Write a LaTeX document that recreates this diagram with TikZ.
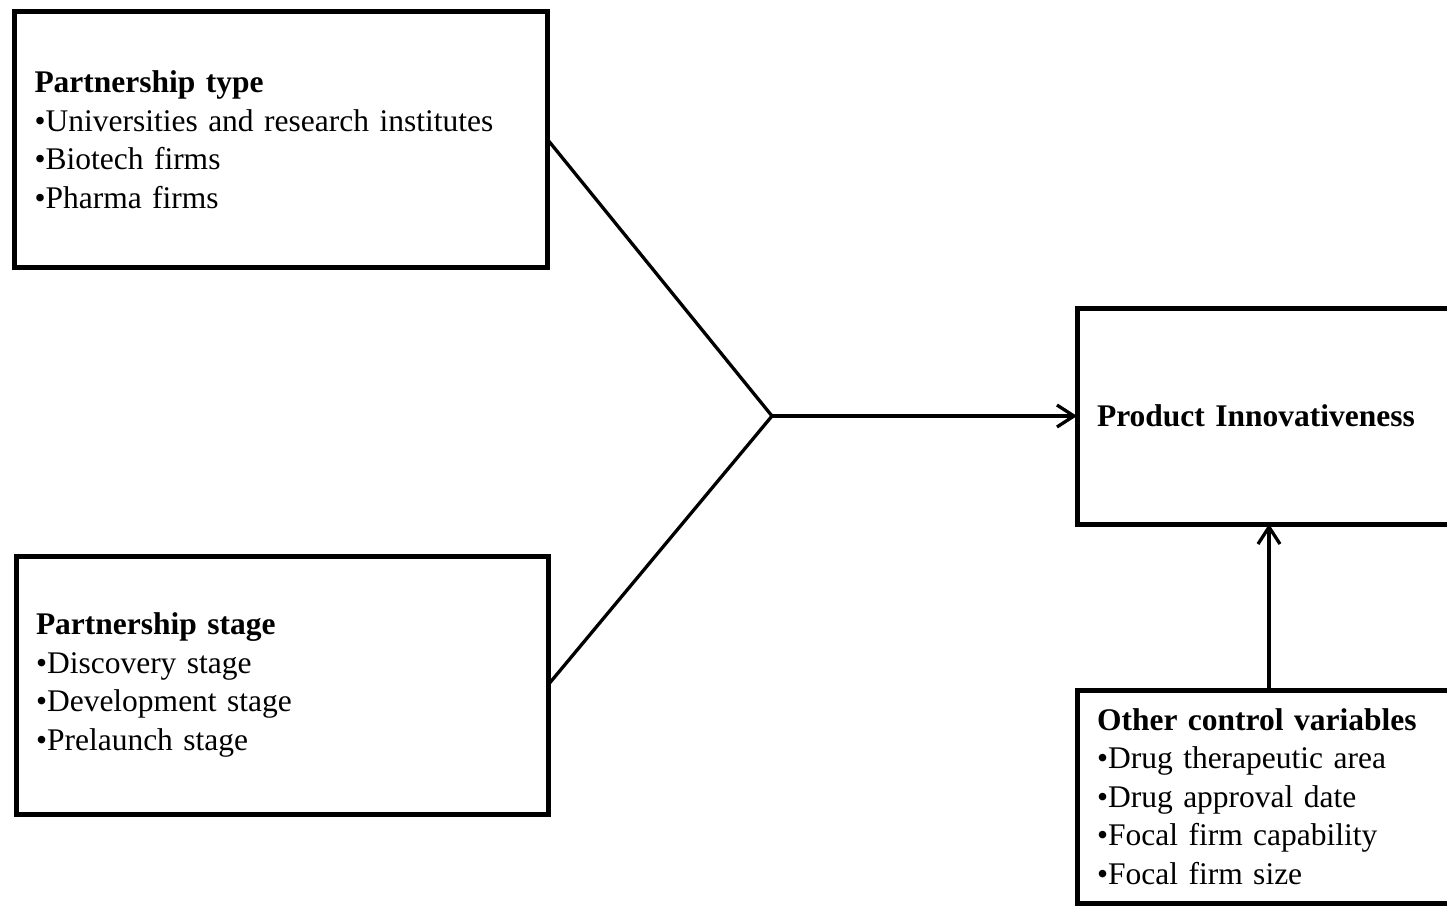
\documentclass[tikz,border=0pt]{standalone}
\usepackage{fontspec}
\setmainfont{Liberation Serif}
\usetikzlibrary{arrows.meta}

\begin{document}
\begin{tikzpicture}[x=0.5pt, y=-0.5pt]

            \tikzset{varbox/.style={draw, line width=2.5pt, outer sep=0pt, inner xsep=10pt,
                                    align=left, anchor=north west,
                                    font=\fontsize{15.75}{19.25}\selectfont},
                     link/.style={line width=1.65pt},
                     arr/.style={link, -{Straight Barb[length=8.5pt, width=11pt, line width=1.65pt]}}}

            \useasboundingbox (0,0) rectangle (1447,906);

            \node [varbox, text width=246.5pt, minimum height=128pt] (ptype) at (14.5, 11.5)
                  {\textbf{Partnership type}\\ •Universities and research institutes\\ •Biotech firms\\ •Pharma firms};
            \node [varbox, text width=246pt, minimum height=129pt] (pstage) at (16, 556)
                  {\textbf{Partnership stage}\\ •Discovery stage\\ •Development stage\\ •Prelaunch stage};
            \node [varbox, text width=172pt, minimum height=108pt] (innov) at (1077, 308)
                  {\textbf{Product Innovativeness}};
            \node [varbox, text width=172pt, minimum height=106.5pt] (ctrl) at (1077, 690)
                  {\textbf{Other control variables}\\ •Drug therapeutic area\\ •Drug approval date\\ •Focal firm capability\\ •Focal firm size};

            \coordinate (hub) at (772, 416);

            \draw [link] (ptype.east) -- (hub);
            \draw [link] (pstage.east) -- (hub);
            \draw [arr] (hub) -- (innov.west);
            \draw [arr] (ctrl.north) -- (innov.south);

        \end{tikzpicture}
\end{document}
